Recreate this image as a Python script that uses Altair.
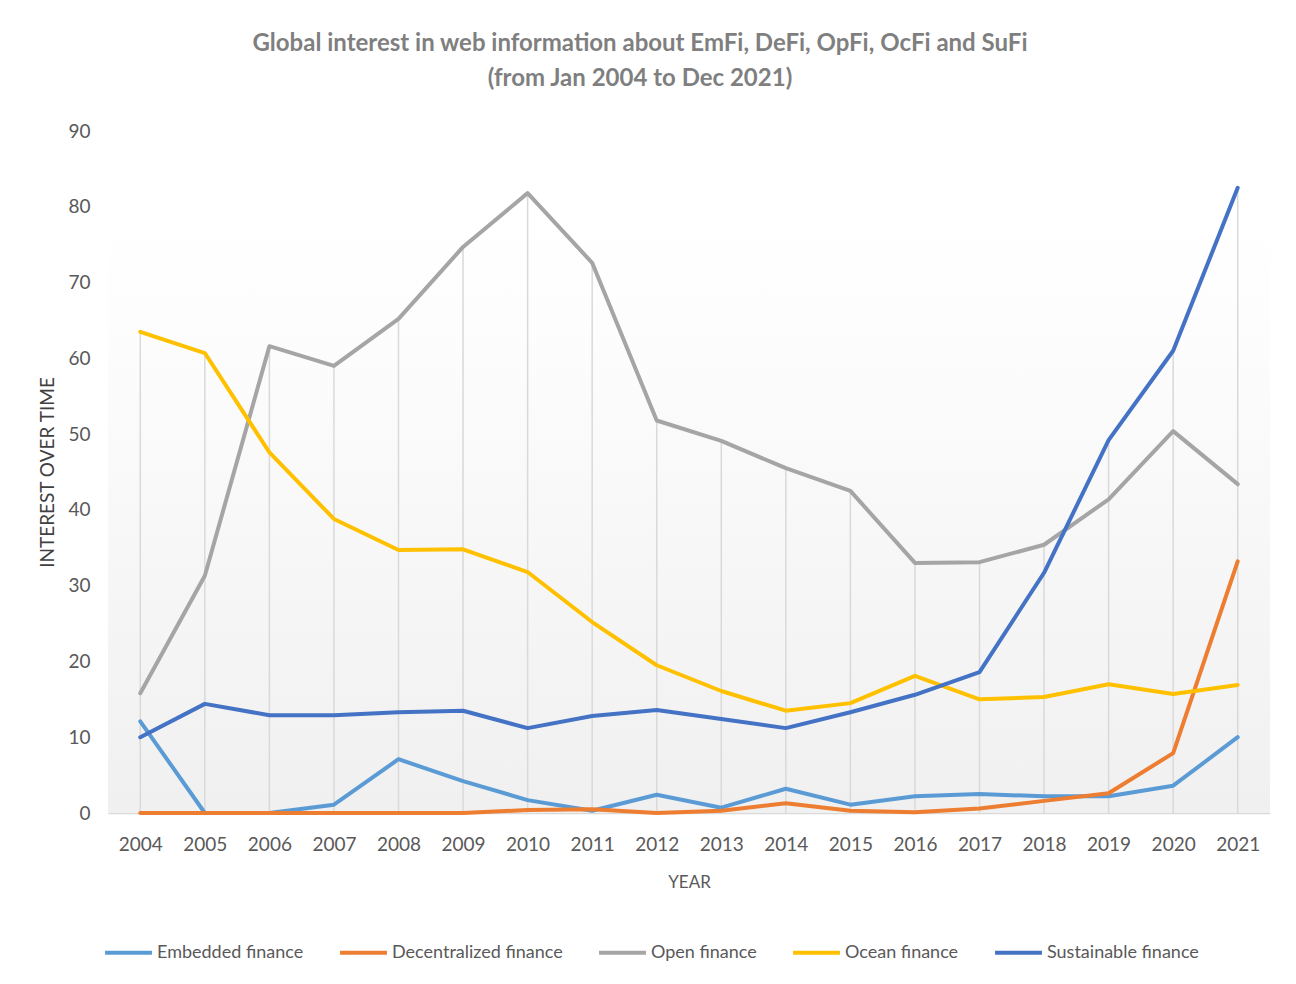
import altair as alt
import pandas as pd

years = [str(y) for y in range(2004, 2022)]
series_names = ["Embedded finance", "Decentralized finance", "Open finance", "Ocean finance", "Sustainable finance"]
series_colors = ["#5B9BD5", "#ED7D31", "#A5A5A5", "#FFC000", "#4472C4"]

embedded = [12.1, 0, 0, 1.1, 7.1, 4.2, 1.7, 0.3, 2.4, 0.7, 3.2, 1.1, 2.2, 2.5, 2.2, 2.2, 3.6, 10.0]
decentralized = [0, 0, 0, 0, 0, 0, 0.4, 0.5, 0, 0.3, 1.3, 0.3, 0.1, 0.6, 1.6, 2.6, 7.9, 33.2]
open_fin = [15.8, 31.3, 61.6, 59.0, 65.2, 74.7, 81.8, 72.6, 51.8, 49.1, 45.5, 42.5, 33.0, 33.1, 35.4, 41.4, 50.4, 43.4]
ocean = [63.5, 60.7, 47.6, 38.8, 34.7, 34.8, 31.8, 25.2, 19.5, 16.1, 13.5, 14.5, 18.1, 15.0, 15.3, 17.0, 15.7, 16.9]
sustainable = [10.0, 14.4, 12.9, 12.9, 13.3, 13.5, 11.2, 12.8, 13.6, 12.4, 11.2, 13.3, 15.6, 18.6, 31.7, 49.2, 61.0, 82.5]

all_series = [embedded, decentralized, open_fin, ocean, sustainable]

rows = []
for name, vals in zip(series_names, all_series):
    for i, (y, v) in enumerate(zip(years, vals)):
        rows.append({"year": y, "value": v, "series": name, "idx": i})
df = pd.DataFrame(rows)

drop_df = pd.DataFrame({"year": years, "top": [max(s[i] for s in all_series) for i in range(len(years))]})
bg_df = pd.DataFrame({"a": [0]})

W, H = 1162, 682
FONT = "Lato"

x_scale = alt.Scale(type="point", padding=0.5)
x_enc = alt.X("year:N", sort=years, title="YEAR", scale=x_scale,
              axis=alt.Axis(labelAngle=0, labelAlign="center", labelBaseline="top", ticks=False,
                            domain=True, domainColor="#d9d9d9", domainWidth=1.5,
                            grid=False, labelPadding=22, titlePadding=20))
y_scale = alt.Scale(domain=[0, 90], nice=False)
y_enc = alt.Y("value:Q", scale=y_scale, title="INTEREST OVER TIME",
              axis=alt.Axis(values=list(range(0, 91, 10)), ticks=False, domain=False, grid=False,
                            labelPadding=18, titlePadding=10, titleFontSize=19))

bg = alt.Chart(bg_df).mark_rect(
    fill={"gradient": "linear", "x1": 0, "y1": 0, "x2": 0, "y2": 1,
          "stops": [{"offset": 0, "color": "#ffffff"}, {"offset": 0.2, "color": "#fdfdfd"},
                    {"offset": 1, "color": "#f0f0f0"}]}
).encode(x=alt.value(0), x2=alt.value(W), y=alt.datum(80, scale=y_scale), y2=alt.datum(0))

drops = alt.Chart(drop_df).mark_rule(color="#d9d9d9", strokeWidth=1.5).encode(
    x=alt.X("year:N", sort=years, scale=x_scale, title="YEAR"),
    y=alt.Y("top:Q", scale=y_scale, title="INTEREST OVER TIME"),
    y2=alt.datum(0),
)

lines = alt.Chart(df).mark_line(strokeWidth=4, strokeCap="round", strokeJoin="round").encode(
    x=x_enc,
    y=y_enc,
    color=alt.Color("series:N", sort=series_names,
                    scale=alt.Scale(domain=series_names, range=series_colors),
                    legend=alt.Legend(title=None, orient="none", direction="horizontal",
                                      legendX=-5, legendY=796,
                                      symbolType="stroke", symbolSize=2200, symbolStrokeWidth=4,
                                      labelOffset=3, columnPadding=28, labelLimit=400,
                                      labelFontSize=18, labelColor="#595959", labelFont=FONT)),
    order="idx:Q",
)

chart = alt.layer(bg, drops, lines).properties(
    width=W, height=H,
    autosize=alt.AutoSizeParams(type="none"),
    padding={"left": 100, "top": 123, "right": 18, "bottom": 160},
    title=alt.TitleParams(
        text=["Global interest in web information about EmFi, DeFi, OpFi, OcFi and SuFi",
              "(from Jan 2004 to Dec 2021)"],
        font=FONT, fontSize=24, fontWeight="bold", color="#7f7f7f", lineHeight=35,
        anchor="middle", offset=31, dx=-49,
    ),
).configure_view(stroke=None).configure_axis(
    labelFont=FONT, titleFont=FONT, labelFontSize=19, titleFontSize=17,
    labelColor="#595959", titleColor="#595959", titleFontWeight="normal",
).configure_axisY(titleColor="#404040")

chart.save("out.html", embed_options={"renderer": "svg", "actions": False})
